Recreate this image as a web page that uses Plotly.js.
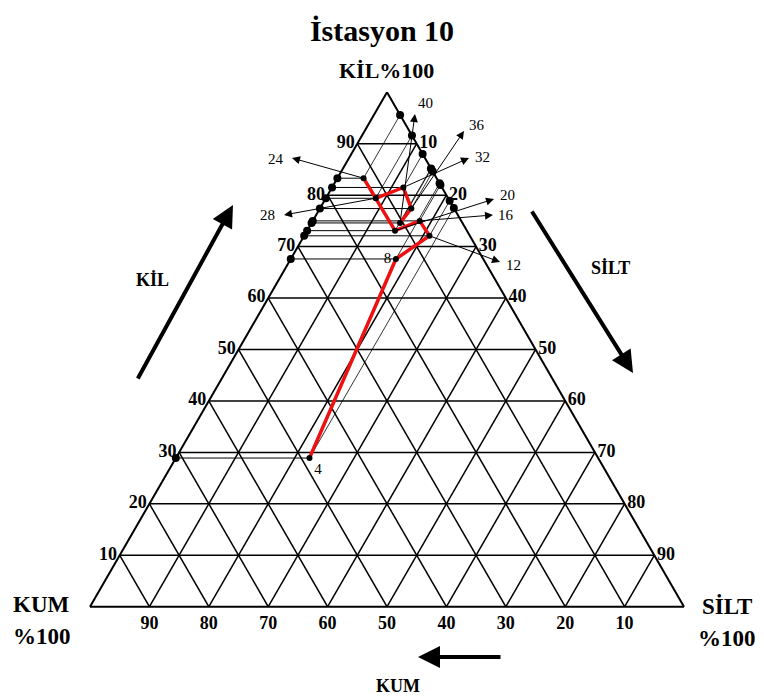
<!DOCTYPE html>
<html><head><meta charset="utf-8">
<script src="https://cdn.plot.ly/plotly-3.0.1.min.js"></script>
<style>html,body{margin:0;padding:0;background:#fff}#chart{width:764px;height:698px}</style>
</head><body><div id="chart"></div>
<script>
// ---- data ----
const depths = [4, 8, 12, 16, 20, 24, 28, 32, 36, 40];
const kil    = [28.9, 67.6, 72.1, 75.0, 73.1, 83.3, 79.4, 81.5, 77.4, 74.6];
const silt   = [22.5, 17.7, 21.1, 18.0, 14.8, 4.4, 8.4, 12.0, 15.4, 14.9];
const kum    = [48.6, 14.7, 6.8, 7.0, 12.1, 12.3, 12.2, 6.5, 7.2, 10.5];
const tickVals = [10, 20, 30, 40, 50, 60, 70, 80, 90];
const tickText = ['10', '20', '30', '40', '50', '60', '70', '80', '90'];
const pointText = ['4', '8', '', '', '', '', '', '', '', ''];
const arrowLabels = ['12', '16', '20', '24', '28', '32', '36', '40'];

// ---- layout helpers ----
const W = 764, H = 698;
const M = {l: 90, r: 80, t: 92, b: 91};
const PW = W - M.l - M.r, PH = H - M.t - M.b;
function P(px, py) { return {x: (px - M.l) / PW, y: 1 - (py - M.t) / PH}; }

const serif = 'Liberation Serif, Times New Roman, serif';
const boldFont = s => ({family: serif, size: s, color: '#000', weight: 'bold'});

// label placement (head of the pointer arrow, text centre), in pixels
const labelPlace = {
  '40': {head: [415, 114], text: [425, 103]},
  '36': {head: [464, 131], text: [477, 125]},
  '32': {head: [469, 158], text: [482, 157]},
  '24': {head: [292, 158], text: [276, 159]},
  '28': {head: [284, 215], text: [267, 215]},
  '20': {head: [494, 199], text: [507, 195]},
  '16': {head: [493, 215], text: [506, 215]},
  '12': {head: [500, 262], text: [513, 265]}
};

// ---- traces ----
const clayA = [], clayB = [], clayC = [];
const siltA = [], siltB = [], siltC = [];
const edgeA = [], edgeB = [], edgeC = [];
for (let i = 0; i < depths.length; i++) {
  clayA.push(kil[i], kil[i], null);
  clayB.push(100 - kil[i], kum[i], null);
  clayC.push(0, silt[i], null);
  siltA.push(kil[i], 100 - silt[i], null);
  siltB.push(kum[i], 0, null);
  siltC.push(silt[i], silt[i], null);
  edgeA.push(kil[i], 100 - silt[i]);
  edgeB.push(100 - kil[i], 0);
  edgeC.push(0, silt[i]);
}

const traces = [
  {type: 'scatterternary', mode: 'lines', a: clayA, b: clayB, c: clayC,
   line: {color: '#000', width: 1}, hoverinfo: 'skip', showlegend: false},
  {type: 'scatterternary', mode: 'lines', a: siltA, b: siltB, c: siltC,
   line: {color: '#000', width: 0.8}, hoverinfo: 'skip', showlegend: false},
  {type: 'scatterternary', mode: 'lines', a: kil, b: kum, c: silt,
   line: {color: '#ee1111', width: 3.5}, hoverinfo: 'skip', showlegend: false},
  {type: 'scatterternary', mode: 'markers', a: edgeA, b: edgeB, c: edgeC,
   marker: {color: '#000', size: 8}, hoverinfo: 'skip', showlegend: false, cliponaxis: false},
  {type: 'scatterternary', mode: 'markers+text', a: kil, b: kum, c: silt,
   text: pointText, textposition: ['bottom right', 'middle left', 'top left', 'top left', 'top left', 'top left', 'top left', 'top left', 'top left', 'top left'],
   textfont: {family: serif, size: 15, color: '#000'},
   marker: {color: '#000', size: 6}, hoverinfo: 'skip', showlegend: false, cliponaxis: false}
];

const axisCommon = {
  title: {text: ''}, tickmode: 'array', tickvals: tickVals, ticktext: tickText,
  ticks: '', showline: true, linecolor: '#000', linewidth: 2,
  showgrid: true, gridcolor: '#000', gridwidth: 1.5,
  tickfont: boldFont(18), min: 0
};

function textAnn(str, px, py, size, bold) {
  const p = P(px, py);
  return {xref: 'paper', yref: 'paper', x: p.x, y: p.y, xanchor: 'center', yanchor: 'middle',
    text: str, showarrow: false,
    font: bold ? boldFont(size) : {family: serif, size: size, color: '#000'}};
}
function arrowAnn(hx, hy, tx, ty, w, size) {
  const p = P(hx, hy);
  return {xref: 'paper', yref: 'paper', x: p.x, y: p.y, text: '', showarrow: true,
    ax: tx - hx, ay: ty - hy, axref: 'pixel', ayref: 'pixel',
    arrowhead: 2, arrowsize: size, arrowwidth: w, arrowcolor: '#000', standoff: 0, startstandoff: 0};
}

const staticAnns = [
  textAnn('KİL%100', 386, 70, 22, true),
  textAnn('KUM', 42, 604, 23, true),
  textAnn('%100', 42, 636, 23, true),
  textAnn('SİLT', 727, 606, 23, true),
  textAnn('%100', 727, 638, 23, true),
  textAnn('KİL', 152, 280, 18, true),
  textAnn('SİLT', 610, 268, 18, true),
  textAnn('KUM', 398, 686, 18, true),
  arrowAnn(233, 205, 137, 380, 4, 1.1),
  arrowAnn(633, 373, 531, 210, 4, 1.1),
  arrowAnn(418, 657, 502, 657, 4, 1.1)
];
arrowLabels.forEach(l => {
  const t = labelPlace[l].text;
  staticAnns.push(textAnn(l, t[0], t[1], 15, false));
});

const layout = {
  width: W, height: H, margin: M, paper_bgcolor: '#fff', showlegend: false,
  title: {text: 'İstasyon 10', x: 0.5, xanchor: 'center', y: 1 - 30 / H, yanchor: 'middle',
          font: boldFont(30)},
  ternary: {sum: 100, bgcolor: '#fff', domain: {x: [0, 1], y: [0, 1]},
    aaxis: axisCommon, baxis: axisCommon, caxis: axisCommon},
  annotations: staticAnns
};

const gd = document.getElementById('chart');
Plotly.newPlot(gd, traces, layout, {displayModeBar: false, staticPlot: true}).then(() => {
  // pointer arrows from each data point to its label, positioned via the ternary's own scales
  let toPx;
  try {
    const sp = gd._fullLayout.ternary._subplot;
    const xa = sp.xaxis, ya = sp.yaxis;
    toPx = (a, b, c) => {
      const s = a + b + c, A = a * 100 / s, B = b * 100 / s, C = c * 100 / s;
      return [xa._offset + xa.c2p(C - B), ya._offset + ya.c2p(A)];
    };
    toPx(50, 25, 25);
  } catch (e) {
    const w = PW, h = w * Math.sqrt(3) / 2, x0 = M.l, y0 = M.t + (PH - h) / 2;
    toPx = (a, b, c) => {
      const s = a + b + c, A = a / s, B = b / s, C = c / s;
      return [x0 + (C - B + 1) / 2 * w, y0 + h - A * h];
    };
  }
  const anns = staticAnns.slice();
  arrowLabels.forEach(l => {
    const i = depths.indexOf(+l);
    const pt = toPx(kil[i], kum[i], silt[i]);
    const hd = labelPlace[l].head;
    anns.push(arrowAnn(hd[0], hd[1], pt[0], pt[1], 1, 1.6));
  });
  return Plotly.relayout(gd, {annotations: anns});
});
</script>
</body></html>
